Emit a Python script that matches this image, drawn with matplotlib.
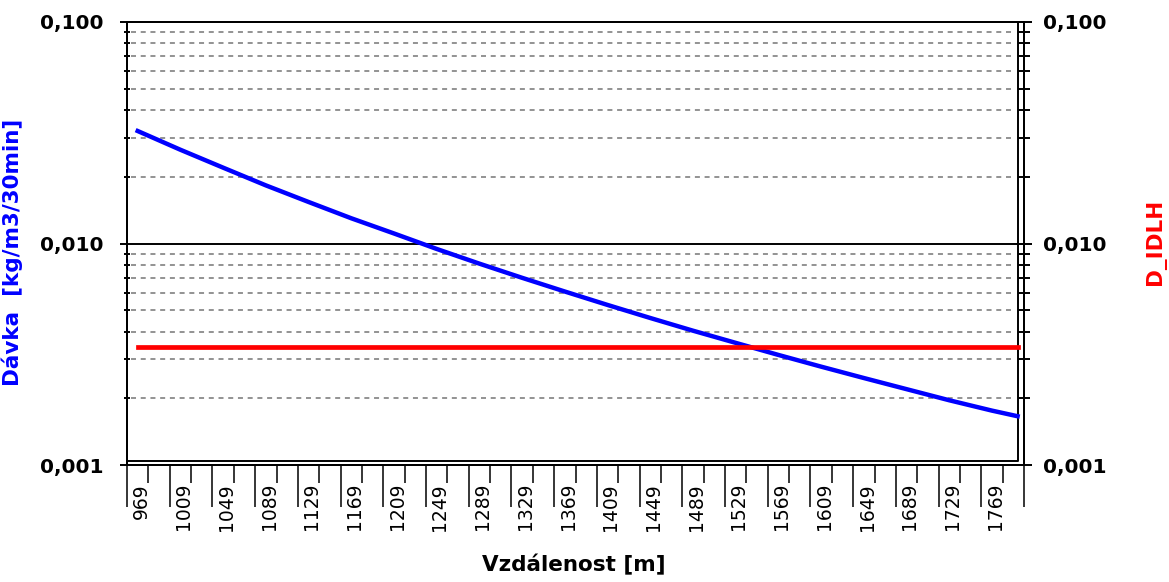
import numpy as np
import matplotlib
matplotlib.use("Agg")
import matplotlib.pyplot as plt
from matplotlib.ticker import FixedLocator, NullFormatter, LogLocator

plt.rcParams["font.family"] = ["DejaVu Sans"]
plt.rcParams["lines.scale_dashes"] = False


# values
distance = [969, 1009, 1049, 1089, 1129, 1169, 1209, 1249, 1289, 1329, 1369,
            1409, 1449, 1489, 1529, 1569, 1609, 1649, 1689, 1729, 1769, 1793]
dose = [0.0322, 0.0265, 0.0220, 0.0183, 0.0154, 0.0130, 0.0111, 0.00945,
        0.00811, 0.00700, 0.00607, 0.00528, 0.00461, 0.00404, 0.00356,
        0.00314, 0.00278, 0.00247, 0.00220, 0.00196, 0.00176, 0.00166]
d_idlh = 0.0034

x_labels = [969, 1009, 1049, 1089, 1129, 1169, 1209, 1249, 1289, 1329, 1369,
            1409, 1449, 1489, 1529, 1569, 1609, 1649, 1689, 1729, 1769]
y_ticks = [0.001, 0.01, 0.1]
y_labels = ["0,001", "0,010", "0,100"]
grid_values = [0.002, 0.003, 0.004, 0.005, 0.006, 0.007, 0.008, 0.009,
               0.02, 0.03, 0.04, 0.05, 0.06, 0.07, 0.08, 0.09]


W, H = 1169, 582
fig = plt.figure(figsize=(W / 100, H / 100), dpi=100)
ax = fig.add_axes([127 / W, (H - 465) / H, (1024 - 127) / W, (465 - 22) / H])

ax.set_yscale("log")
ax.set_xlim(959, 1799)
ax.set_ylim(0.001, 0.1)

for s in ax.spines.values():
    s.set_linewidth(1.4)
    s.set_color("black")

# grid
ax.hlines(grid_values, 0.005, 0.988, transform=ax.get_yaxis_transform(),
          colors="#8a8a8a", linewidth=1.3, linestyles=(0, (3.6, 3.4)), zorder=1)
ax.hlines([0.01], 0, 1, transform=ax.get_yaxis_transform(),
          colors="black", linewidth=1.4, zorder=1)

# inner frame
fr = (1018 - 127) / (1024 - 127)
fb = (465 - 461) / (465 - 22)
ax.plot([0, fr, fr], [fb, fb, 1], transform=ax.transAxes, color="black",
        linewidth=1.4, clip_on=False, zorder=2)

# series
ax.plot(distance, dose, color="#0000ff", linewidth=3.2, zorder=3)
ax.plot(distance, [d_idlh] * len(distance), color="#ff0000", linewidth=3.4, zorder=3)

# left y axis
ax.yaxis.set_major_locator(FixedLocator(y_ticks))
ax.set_yticklabels(y_labels, fontsize=14.5, fontweight="bold")
ax.yaxis.set_minor_locator(LogLocator(base=10, subs=np.arange(2, 10)))
ax.yaxis.set_minor_formatter(NullFormatter())
ax.tick_params(axis="y", which="major", direction="out", length=5, width=1.4, pad=12)
ax.tick_params(axis="y", which="minor", direction="inout", length=5, width=1.4)

# x axis ticks
ax.xaxis.set_major_locator(FixedLocator(np.arange(959, 1800, 40)))
ax.xaxis.set_minor_locator(FixedLocator(np.arange(979, 1800, 40)))
ax.xaxis.set_major_formatter(NullFormatter())
ax.xaxis.set_minor_formatter(NullFormatter())
ax.tick_params(axis="x", which="major", direction="out", length=30, width=1.1)
ax.tick_params(axis="x", which="minor", direction="out", length=13, width=1.1)

for v in x_labels:
    ax.text(v + 3, -(483 - 465) / (465 - 22), str(v), transform=ax.get_xaxis_transform(),
            rotation=90, ha="center", va="top", fontsize=13.5)

ax.set_ylabel("Dávka  [kg/m3/30min]", color="#0000ff", fontsize=15.5, fontweight="bold")
ax.yaxis.set_label_coords((23 - 127) / 897, (465 - 252) / 443)

# right y axis
ax2 = ax.twinx()
ax2.set_yscale("log")
ax2.set_ylim(0.001, 0.1)
ax2.yaxis.set_major_locator(FixedLocator(y_ticks))
ax2.set_yticklabels(y_labels, fontsize=14.5, fontweight="bold")
ax2.yaxis.set_minor_locator(LogLocator(base=10, subs=np.arange(2, 10)))
ax2.yaxis.set_minor_formatter(NullFormatter())
ax2.tick_params(axis="y", which="major", direction="inout", length=11, width=1.4, pad=8)
ax2.tick_params(axis="y", which="minor", direction="inout", length=8, width=1.4)
for s in ax2.spines.values():
    s.set_linewidth(1.4)
ax2.set_ylabel("D_IDLH", color="#ff0000", fontsize=15.5, fontweight="bold", rotation=90)
ax2.yaxis.set_label_coords((1145 - 127) / 897, (465 - 242) / 443)

fig.text(574 / W, 1 - 565 / H, "Vzdálenost [m]", ha="center", va="center",
         fontsize=15.5, fontweight="bold")

fig.savefig("out.png", dpi=100)
